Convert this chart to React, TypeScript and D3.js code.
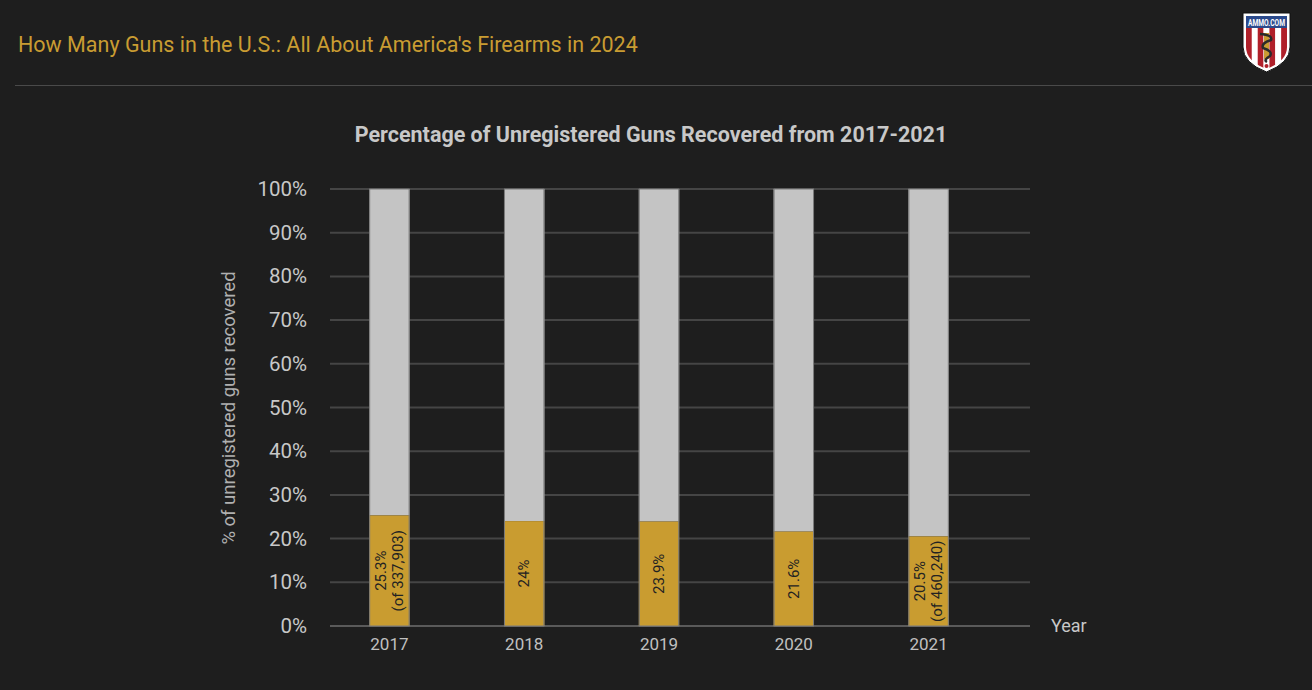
import React, { useEffect, useRef } from 'react';
import * as d3 from 'd3';

const years = ['2017', '2018', '2019', '2020', '2021'];
const unregistered = [25.3, 24, 23.9, 21.6, 20.5];
const barLabels = [
  ['25.3%', '(of 337,903)'],
  ['24%'],
  ['23.9%'],
  ['21.6%'],
  ['20.5%', '(of 460,240)'],
];
const yTicks = [0, 10, 20, 30, 40, 50, 60, 70, 80, 90, 100];

const W = 1312;
const H = 690;
const FONT = 'Roboto, "Noto Sans", sans-serif';

const App: React.FC = () => {
  const svgRef = useRef<SVGSVGElement>(null);

  useEffect(() => {
    if (!svgRef.current) return;
    const svg = d3.select(svgRef.current);
    svg.selectAll('*').remove();

    svg.append('rect').attr('width', W).attr('height', H).attr('fill', '#1e1e1e');

    // page header
    svg.append('text')
      .attr('x', 18).attr('y', 52)
      .attr('fill', '#c99c32')
      .style('font', `21.5px ${FONT}`)
      .text("How Many Guns in the U.S.: All About America's Firearms in 2024");

    svg.append('line')
      .attr('x1', 15).attr('x2', W).attr('y1', 85.5).attr('y2', 85.5)
      .attr('stroke', '#4a4a4a').attr('stroke-width', 1);

    // logo shield
    const logo = svg.append('g').attr('transform', 'translate(1243,13)');
    const shield = 'M0,0 H47 V34 Q47,50 23.5,59 Q0,50 0,34 Z';
    logo.append('path').attr('d', shield).attr('fill', '#fff').attr('stroke', '#111').attr('stroke-width', 1);
    const clip = logo.append('clipPath').attr('id', 'shieldClip');
    clip.append('path').attr('d', 'M3,3 H44 V34 Q44,48 23.5,56 Q3,48 3,34 Z');
    const inner = logo.append('g').attr('clip-path', 'url(#shieldClip)');
    d3.range(7).forEach(i => {
      inner.append('rect')
        .attr('x', 3 + i * (41 / 7)).attr('y', 3)
        .attr('width', 41 / 7).attr('height', 56)
        .attr('fill', i % 2 === 0 ? '#b0202a' : '#ffffff');
    });
    inner.append('rect').attr('x', 3).attr('y', 3).attr('width', 41).attr('height', 12).attr('fill', '#2b4a8c');
    logo.append('text')
      .attr('x', 5).attr('y', 12.5)
      .attr('textLength', 37).attr('lengthAdjust', 'spacingAndGlyphs')
      .attr('fill', '#fff').style('font', `bold 8.5px ${FONT}`)
      .text('AMMO.COM');
    logo.append('rect').attr('x', 21).attr('y', 20).attr('width', 5).attr('height', 26).attr('fill', '#c99c32');
    logo.append('path')
      .attr('d', 'M17,21 Q30,22 28,27 Q18,30 20,35 Q30,38 27,43 Q20,47 24,49')
      .attr('fill', 'none').attr('stroke', '#2a2a2a').attr('stroke-width', 2.5);
    logo.append('circle').attr('cx', 23.5).attr('cy', 53).attr('r', 2).attr('fill', '#b0202a');

    // chart
    const y = d3.scaleLinear().domain([0, 100]).range([626, 189]);
    const x = d3.scaleBand<string>().domain(years).range([322, 996]).paddingInner(0.7).paddingOuter(0.35);
    const gridLeft = 330;
    const gridRight = 1030;

    svg.append('text')
      .attr('x', 651).attr('y', 142).attr('text-anchor', 'middle')
      .attr('fill', '#c8c8c8')
      .style('font', `bold 21.5px ${FONT}`)
      .text('Percentage of Unregistered Guns Recovered from 2017-2021');

    const grid = svg.append('g');
    grid.selectAll('line')
      .data(yTicks)
      .enter()
      .append('line')
      .attr('x1', gridLeft).attr('x2', gridRight)
      .attr('y1', d => y(d)).attr('y2', d => y(d))
      .attr('stroke', d => (d === 0 ? '#5a5a5a' : '#454545'))
      .attr('stroke-width', 2);

    svg.append('g').selectAll('text')
      .data(yTicks)
      .enter()
      .append('text')
      .attr('x', 307).attr('y', d => y(d) + 7)
      .attr('text-anchor', 'end')
      .attr('fill', '#c8c8c8')
      .style('font', `20.5px ${FONT}`)
      .text(d => `${d}%`);

    svg.append('text')
      .attr('transform', 'rotate(-90)')
      .attr('x', -408).attr('y', 235)
      .attr('text-anchor', 'middle')
      .attr('fill', '#b0b0b0')
      .style('font', `18.5px ${FONT}`)
      .text('% of unregistered guns recovered');

    const bw = x.bandwidth();
    const bars = svg.append('g');
    // grey remainder
    bars.selectAll('rect.rest')
      .data(years)
      .enter()
      .append('rect')
      .attr('class', 'rest')
      .attr('x', d => x(d)!)
      .attr('y', y(100))
      .attr('width', bw)
      .attr('height', (d, i) => y(unregistered[i]) - y(100))
      .attr('fill', '#c4c4c4');
    bars.selectAll('rect.val')
      .data(years)
      .enter()
      .append('rect')
      .attr('class', 'val')
      .attr('x', d => x(d)!)
      .attr('y', (d, i) => y(unregistered[i]))
      .attr('width', bw)
      .attr('height', (d, i) => y(0) - y(unregistered[i]))
      .attr('fill', '#c99c30');
    bars.selectAll('rect.edge')
      .data(years)
      .enter()
      .append('rect')
      .attr('class', 'edge')
      .attr('x', d => x(d)! + 0.5)
      .attr('y', y(100))
      .attr('width', bw - 1)
      .attr('height', y(0) - y(100))
      .attr('fill', 'none')
      .attr('stroke', '#7a7a7a')
      .attr('stroke-width', 1);

    // labels inside bars
    years.forEach((yr, i) => {
      const cx = x(yr)! + bw / 2;
      const cy = (y(0) + y(unregistered[i])) / 2;
      const lines = barLabels[i];
      const t = svg.append('text')
        .attr('transform', `translate(${cx},${cy}) rotate(-90)`)
        .attr('text-anchor', 'middle')
        .attr('fill', '#222')
        .style('font', `15px ${FONT}`);
      lines.forEach((ln, j) => {
        t.append('tspan')
          .attr('x', 0)
          .attr('y', (j - (lines.length - 1) / 2) * 17 + 5)
          .text(ln);
      });
    });

    svg.append('g').selectAll('text')
      .data(years)
      .enter()
      .append('text')
      .attr('x', d => x(d)! + bw / 2)
      .attr('y', 650)
      .attr('text-anchor', 'middle')
      .attr('fill', '#c0c0c0')
      .style('font', `17px ${FONT}`)
      .text(d => d);

    svg.append('text')
      .attr('x', 1051).attr('y', 632)
      .attr('fill', '#c8c8c8')
      .style('font', `18px ${FONT}`)
      .text('Year');
  }, []);

  return <svg ref={svgRef} width={W} height={H} style={{ display: 'block', position: 'absolute', left: 0, top: 0 }} />;
};

export default App;
